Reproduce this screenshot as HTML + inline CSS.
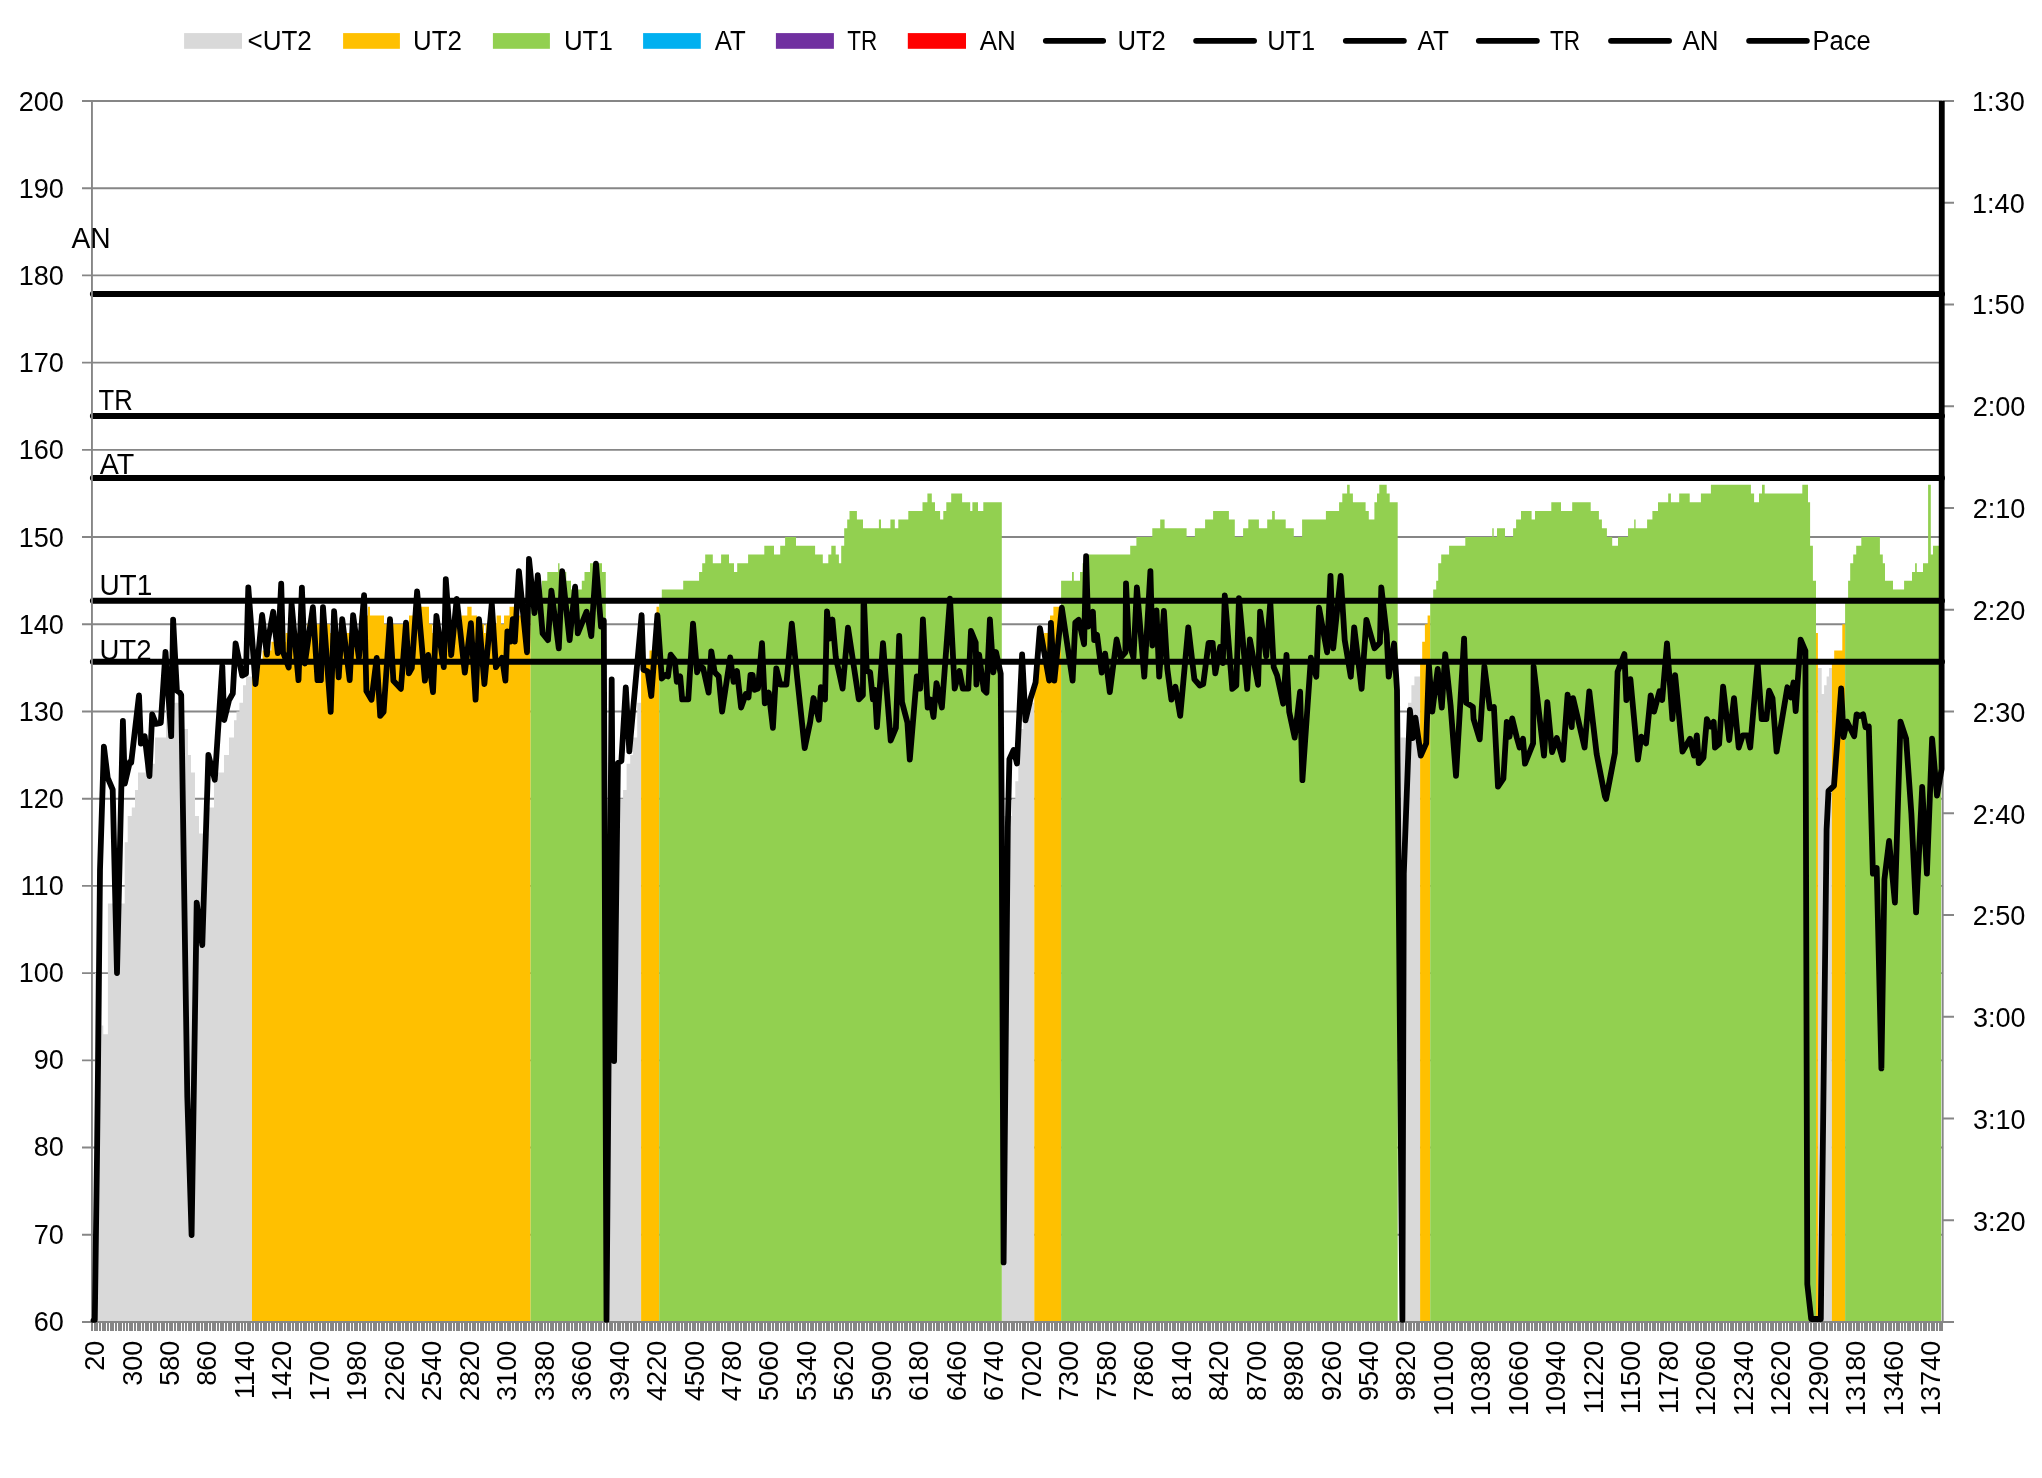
<!DOCTYPE html>
<html><head><meta charset="utf-8"><title>chart</title>
<style>html,body{margin:0;padding:0;background:#fff;width:2042px;height:1478px;overflow:hidden}</style>
</head><body>
<svg width="2042" height="1478" viewBox="0 0 2042 1478" style="display:block">
<rect x="0" y="0" width="2042" height="1478" fill="#fff"/>
<path d="M82,1234.78H1942.4M82,1147.57H1942.4M82,1060.35H1942.4M82,973.13H1942.4M82,885.92H1942.4M82,798.70H1942.4M82,711.49H1942.4M82,624.27H1942.4M82,537.05H1942.4M82,449.84H1942.4M82,362.62H1942.4M82,275.40H1942.4M82,188.19H1942.4M82,100.97H1942.4" stroke="#868686" stroke-width="1.9" fill="none"/>
<path d="M95.0,1322.0V973.1H101.6V1322.0ZM101.6,1322.0V1025.5H103.3V1322.0ZM103.3,1322.0V1034.2H107.9V1322.0ZM107.9,1322.0V903.4H124.7V1322.0ZM124.7,1322.0V842.3H127.7V1322.0ZM127.7,1322.0V816.1H131.8V1322.0ZM131.8,1322.0V807.4H135.0V1322.0ZM135.0,1322.0V790.0H138.0V1322.0ZM138.0,1322.0V772.5H145.0V1322.0ZM145.0,1322.0V763.8H155.0V1322.0ZM155.0,1322.0V737.6H166.0V1322.0ZM166.0,1322.0V694.0H174.0V1322.0ZM174.0,1322.0V702.8H184.0V1322.0ZM184.0,1322.0V728.9H188.0V1322.0ZM188.0,1322.0V755.1H191.0V1322.0ZM191.0,1322.0V772.5H195.0V1322.0ZM195.0,1322.0V816.1H199.0V1322.0ZM199.0,1322.0V833.6H209.0V1322.0ZM209.0,1322.0V807.4H214.0V1322.0ZM214.0,1322.0V781.3H218.0V1322.0ZM218.0,1322.0V772.5H224.0V1322.0ZM224.0,1322.0V755.1H229.0V1322.0ZM229.0,1322.0V737.6H234.0V1322.0ZM234.0,1322.0V720.2H236.5V1322.0ZM236.5,1322.0V711.5H239.4V1322.0ZM239.4,1322.0V702.8H243.0V1322.0ZM243.0,1322.0V685.3H246.0V1322.0ZM246.0,1322.0V676.6H252.0V1322.0ZM605.8,1322.0V798.7H623.1V1322.0ZM623.1,1322.0V790.0H626.6V1322.0ZM626.6,1322.0V763.8H630.2V1322.0ZM630.2,1322.0V755.1H632.8V1322.0ZM632.8,1322.0V737.6H637.2V1322.0ZM637.2,1322.0V702.8H641.1V1322.0ZM1001.8,1322.0V816.1H1011.9V1322.0ZM1011.9,1322.0V798.7H1015.3V1322.0ZM1015.3,1322.0V781.3H1018.3V1322.0ZM1018.3,1322.0V728.9H1023.3V1322.0ZM1023.3,1322.0V720.2H1028.6V1322.0ZM1028.6,1322.0V702.8H1034.3V1322.0ZM1400.6,1322.0V737.6H1408.0V1322.0ZM1408.0,1322.0V702.8H1411.4V1322.0ZM1411.4,1322.0V685.3H1414.4V1322.0ZM1414.4,1322.0V676.6H1420.1V1322.0ZM1817.9,1322.0V667.9H1821.7V1322.0ZM1821.7,1322.0V694.0H1824.1V1322.0ZM1824.1,1322.0V685.3H1826.6V1322.0ZM1826.6,1322.0V676.6H1829.0V1322.0ZM1829.0,1322.0V667.9H1831.9V1322.0Z" fill="#D9D9D9"/>
<path d="M252.0,1322.0V659.2H262.6V1322.0ZM262.6,1322.0V650.4H271.4V1322.0ZM271.4,1322.0V641.7H285.6V1322.0ZM285.6,1322.0V633.0H307.0V1322.0ZM307.0,1322.0V624.3H330.0V1322.0ZM330.0,1322.0V633.0H359.6V1322.0ZM359.6,1322.0V615.5H368.0V1322.0ZM368.0,1322.0V606.8H370.0V1322.0ZM370.0,1322.0V615.5H384.0V1322.0ZM384.0,1322.0V624.3H409.0V1322.0ZM409.0,1322.0V615.5H413.4V1322.0ZM413.4,1322.0V606.8H429.0V1322.0ZM429.0,1322.0V624.3H432.3V1322.0ZM432.3,1322.0V633.0H452.6V1322.0ZM452.6,1322.0V624.3H461.4V1322.0ZM461.4,1322.0V615.5H467.3V1322.0ZM467.3,1322.0V606.8H471.6V1322.0ZM471.6,1322.0V615.5H477.0V1322.0ZM477.0,1322.0V624.3H484.0V1322.0ZM484.0,1322.0V633.0H485.7V1322.0ZM485.7,1322.0V624.3H496.6V1322.0ZM496.6,1322.0V615.5H501.0V1322.0ZM501.0,1322.0V624.3H504.0V1322.0ZM504.0,1322.0V615.5H509.5V1322.0ZM509.5,1322.0V606.8H514.8V1322.0ZM514.8,1322.0V615.5H530.6V1322.0ZM641.1,1322.0V659.2H649.5V1322.0ZM649.5,1322.0V650.4H653.0V1322.0ZM653.0,1322.0V641.7H656.5V1322.0ZM656.5,1322.0V606.8H659.2V1322.0ZM1034.3,1322.0V659.2H1044.1V1322.0ZM1044.1,1322.0V633.0H1050.0V1322.0ZM1050.0,1322.0V615.5H1053.4V1322.0ZM1053.4,1322.0V606.8H1061.1V1322.0ZM1420.1,1322.0V659.2H1422.2V1322.0ZM1422.2,1322.0V641.7H1424.9V1322.0ZM1424.9,1322.0V624.3H1427.6V1322.0ZM1427.6,1322.0V615.5H1430.2V1322.0ZM1816.0,1322.0V633.0H1817.9V1322.0ZM1831.9,1322.0V659.2H1834.2V1322.0ZM1834.2,1322.0V650.4H1842.3V1322.0ZM1842.3,1322.0V624.3H1845.1V1322.0Z" fill="#FFC000"/>
<path d="M530.6,1322.0V606.8H541.9V1322.0ZM541.9,1322.0V580.7H547.3V1322.0ZM547.3,1322.0V571.9H558.1V1322.0ZM558.1,1322.0V563.2H559.5V1322.0ZM559.5,1322.0V571.9H566.3V1322.0ZM566.3,1322.0V580.7H571.0V1322.0ZM571.0,1322.0V589.4H581.8V1322.0ZM581.8,1322.0V580.7H584.5V1322.0ZM584.5,1322.0V571.9H590.0V1322.0ZM590.0,1322.0V563.2H602.0V1322.0ZM602.0,1322.0V571.9H605.8V1322.0ZM659.2,1322.0V598.1H661.8V1322.0ZM661.8,1322.0V589.4H683.2V1322.0ZM683.2,1322.0V580.7H699.1V1322.0ZM699.1,1322.0V571.9H702.2V1322.0ZM702.2,1322.0V563.2H705.2V1322.0ZM705.2,1322.0V554.5H712.8V1322.0ZM712.8,1322.0V563.2H721.1V1322.0ZM721.1,1322.0V554.5H729.0V1322.0ZM729.0,1322.0V563.2H734.0V1322.0ZM734.0,1322.0V571.9H737.2V1322.0ZM737.2,1322.0V563.2H748.1V1322.0ZM748.1,1322.0V554.5H764.3V1322.0ZM764.3,1322.0V545.8H774.0V1322.0ZM774.0,1322.0V554.5H780.2V1322.0ZM780.2,1322.0V545.8H785.1V1322.0ZM785.1,1322.0V537.1H796.0V1322.0ZM796.0,1322.0V545.8H815.1V1322.0ZM815.1,1322.0V554.5H822.8V1322.0ZM822.8,1322.0V563.2H828.3V1322.0ZM828.3,1322.0V554.5H831.3V1322.0ZM831.3,1322.0V545.8H835.7V1322.0ZM835.7,1322.0V554.5H838.9V1322.0ZM838.9,1322.0V563.2H841.2V1322.0ZM841.2,1322.0V545.8H844.2V1322.0ZM844.2,1322.0V528.3H847.2V1322.0ZM847.2,1322.0V519.6H849.5V1322.0ZM849.5,1322.0V510.9H856.9V1322.0ZM856.9,1322.0V519.6H863.0V1322.0ZM863.0,1322.0V528.3H878.9V1322.0ZM878.9,1322.0V519.6H881.0V1322.0ZM881.0,1322.0V528.3H890.4V1322.0ZM890.4,1322.0V519.6H894.8V1322.0ZM894.8,1322.0V528.3H898.3V1322.0ZM898.3,1322.0V519.6H908.3V1322.0ZM908.3,1322.0V510.9H922.5V1322.0ZM922.5,1322.0V502.2H927.4V1322.0ZM927.4,1322.0V493.4H931.8V1322.0ZM931.8,1322.0V502.2H935.0V1322.0ZM935.0,1322.0V510.9H940.1V1322.0ZM940.1,1322.0V519.6H943.3V1322.0ZM943.3,1322.0V510.9H946.3V1322.0ZM946.3,1322.0V502.2H951.2V1322.0ZM951.2,1322.0V493.4H962.1V1322.0ZM962.1,1322.0V502.2H970.2V1322.0ZM970.2,1322.0V510.9H972.4V1322.0ZM972.4,1322.0V502.2H978.0V1322.0ZM978.0,1322.0V510.9H983.3V1322.0ZM983.3,1322.0V502.2H1001.8V1322.0ZM1061.1,1322.0V580.7H1072.0V1322.0ZM1072.0,1322.0V571.9H1073.8V1322.0ZM1073.8,1322.0V580.7H1080.0V1322.0ZM1080.0,1322.0V571.9H1082.6V1322.0ZM1082.6,1322.0V563.2H1088.8V1322.0ZM1088.8,1322.0V554.5H1130.2V1322.0ZM1130.2,1322.0V545.8H1136.4V1322.0ZM1136.4,1322.0V537.1H1152.3V1322.0ZM1152.3,1322.0V528.3H1160.2V1322.0ZM1160.2,1322.0V519.6H1164.6V1322.0ZM1164.6,1322.0V528.3H1186.6V1322.0ZM1186.6,1322.0V537.1H1194.9V1322.0ZM1194.9,1322.0V528.3H1205.1V1322.0ZM1205.1,1322.0V519.6H1213.1V1322.0ZM1213.1,1322.0V510.9H1228.9V1322.0ZM1228.9,1322.0V519.6H1234.8V1322.0ZM1234.8,1322.0V537.1H1243.1V1322.0ZM1243.1,1322.0V528.3H1248.3V1322.0ZM1248.3,1322.0V519.6H1258.9V1322.0ZM1258.9,1322.0V528.3H1267.2V1322.0ZM1267.2,1322.0V519.6H1272.1V1322.0ZM1272.1,1322.0V510.9H1274.8V1322.0ZM1274.8,1322.0V519.6H1285.7V1322.0ZM1285.7,1322.0V528.3H1293.8V1322.0ZM1293.8,1322.0V537.1H1302.1V1322.0ZM1302.1,1322.0V519.6H1325.9V1322.0ZM1325.9,1322.0V510.9H1339.1V1322.0ZM1339.1,1322.0V502.2H1342.3V1322.0ZM1342.3,1322.0V493.4H1347.1V1322.0ZM1347.1,1322.0V484.7H1349.7V1322.0ZM1349.7,1322.0V493.4H1352.9V1322.0ZM1352.9,1322.0V502.2H1365.6V1322.0ZM1365.6,1322.0V510.9H1368.8V1322.0ZM1368.8,1322.0V519.6H1374.4V1322.0ZM1374.4,1322.0V502.2H1377.0V1322.0ZM1377.0,1322.0V493.4H1379.3V1322.0ZM1379.3,1322.0V484.7H1386.7V1322.0ZM1386.7,1322.0V493.4H1389.7V1322.0ZM1389.7,1322.0V502.2H1397.7V1322.0ZM1430.2,1322.0V598.1H1433.2V1322.0ZM1433.2,1322.0V589.4H1436.2V1322.0ZM1436.2,1322.0V580.7H1438.2V1322.0ZM1438.2,1322.0V563.2H1441.2V1322.0ZM1441.2,1322.0V554.5H1449.1V1322.0ZM1449.1,1322.0V545.8H1465.3V1322.0ZM1465.3,1322.0V537.1H1492.3V1322.0ZM1492.3,1322.0V528.3H1493.7V1322.0ZM1493.7,1322.0V537.1H1497.0V1322.0ZM1497.0,1322.0V528.3H1505.0V1322.0ZM1505.0,1322.0V537.1H1513.1V1322.0ZM1513.1,1322.0V528.3H1516.1V1322.0ZM1516.1,1322.0V519.6H1521.0V1322.0ZM1521.0,1322.0V510.9H1531.6V1322.0ZM1531.6,1322.0V519.6H1535.0V1322.0ZM1535.0,1322.0V510.9H1551.3V1322.0ZM1551.3,1322.0V502.2H1561.0V1322.0ZM1561.0,1322.0V510.9H1572.2V1322.0ZM1572.2,1322.0V502.2H1590.7V1322.0ZM1590.7,1322.0V510.9H1598.9V1322.0ZM1598.9,1322.0V519.6H1601.9V1322.0ZM1601.9,1322.0V528.3H1606.9V1322.0ZM1606.9,1322.0V537.1H1612.2V1322.0ZM1612.2,1322.0V545.8H1618.0V1322.0ZM1618.0,1322.0V537.1H1628.0V1322.0ZM1628.0,1322.0V528.3H1634.2V1322.0ZM1634.2,1322.0V519.6H1635.6V1322.0ZM1635.6,1322.0V528.3H1647.1V1322.0ZM1647.1,1322.0V519.6H1652.4V1322.0ZM1652.4,1322.0V510.9H1658.0V1322.0ZM1658.0,1322.0V502.2H1668.2V1322.0ZM1668.2,1322.0V493.4H1670.9V1322.0ZM1670.9,1322.0V502.2H1679.2V1322.0ZM1679.2,1322.0V493.4H1689.7V1322.0ZM1689.7,1322.0V502.2H1700.9V1322.0ZM1700.9,1322.0V493.4H1710.9V1322.0ZM1710.9,1322.0V484.7H1750.9V1322.0ZM1750.9,1322.0V493.4H1754.1V1322.0ZM1754.1,1322.0V502.2H1759.0V1322.0ZM1759.0,1322.0V493.4H1762.0V1322.0ZM1762.0,1322.0V484.7H1764.7V1322.0ZM1764.7,1322.0V493.4H1802.3V1322.0ZM1802.3,1322.0V484.7H1808.0V1322.0ZM1808.0,1322.0V502.2H1810.1V1322.0ZM1810.1,1322.0V545.8H1812.9V1322.0ZM1812.9,1322.0V580.7H1816.0V1322.0ZM1845.1,1322.0V598.1H1848.1V1322.0ZM1848.1,1322.0V580.7H1850.2V1322.0ZM1850.2,1322.0V563.2H1853.2V1322.0ZM1853.2,1322.0V554.5H1856.2V1322.0ZM1856.2,1322.0V545.8H1861.3V1322.0ZM1861.3,1322.0V537.1H1879.9V1322.0ZM1879.9,1322.0V554.5H1882.8V1322.0ZM1882.8,1322.0V563.2H1885.0V1322.0ZM1885.0,1322.0V580.7H1893.0V1322.0ZM1893.0,1322.0V589.4H1904.1V1322.0ZM1904.1,1322.0V580.7H1912.0V1322.0ZM1912.0,1322.0V571.9H1915.1V1322.0ZM1915.1,1322.0V563.2H1916.8V1322.0ZM1916.8,1322.0V571.9H1923.0V1322.0ZM1923.0,1322.0V563.2H1928.1V1322.0ZM1928.1,1322.0V484.7H1930.8V1322.0ZM1930.8,1322.0V554.5H1933.0V1322.0ZM1933.0,1322.0V545.8H1941.2V1322.0Z" fill="#92D050"/>
<path d="M92.9,294.0H1942" stroke="#000" stroke-width="6" stroke-linecap="round" fill="none"/>
<path d="M92.9,415.9H1942" stroke="#000" stroke-width="6" stroke-linecap="round" fill="none"/>
<path d="M92.9,477.9H1942" stroke="#000" stroke-width="6" stroke-linecap="round" fill="none"/>
<path d="M92.9,600.8H1942" stroke="#000" stroke-width="6" stroke-linecap="round" fill="none"/>
<path d="M92.9,661.85H1942" stroke="#000" stroke-width="6" stroke-linecap="round" fill="none"/>
<path d="M91.95,100.97V1322.9" stroke="#868686" stroke-width="1.9" fill="none"/>
<path d="M1942.7,100.97V1322.9" stroke="#868686" stroke-width="1.9" fill="none"/>
<path d="M1942.4,100.97H1954M1942.4,202.72H1954M1942.4,304.48H1954M1942.4,406.23H1954M1942.4,507.98H1954M1942.4,609.73H1954M1942.4,711.49H1954M1942.4,813.24H1954M1942.4,914.99H1954M1942.4,1016.74H1954M1942.4,1118.49H1954M1942.4,1220.25H1954M1942.4,1322.00H1954" stroke="#868686" stroke-width="1.9" fill="none"/>
<path d="M82,1322.00H1944.5" stroke="#868686" stroke-width="1.9" fill="none"/>
<path d="M91.95,1322.0V1331M94.63,1322.0V1331M97.31,1322.0V1331M100.00,1322.0V1331M102.68,1322.0V1331M105.36,1322.0V1331M108.04,1322.0V1331M110.72,1322.0V1331M113.40,1322.0V1331M116.09,1322.0V1331M118.77,1322.0V1331M121.45,1322.0V1331M124.13,1322.0V1331M126.81,1322.0V1331M129.50,1322.0V1331M132.18,1322.0V1331M134.86,1322.0V1331M137.54,1322.0V1331M140.22,1322.0V1331M142.90,1322.0V1331M145.59,1322.0V1331M148.27,1322.0V1331M150.95,1322.0V1331M153.63,1322.0V1331M156.31,1322.0V1331M159.00,1322.0V1331M161.68,1322.0V1331M164.36,1322.0V1331M167.04,1322.0V1331M169.72,1322.0V1331M172.40,1322.0V1331M175.09,1322.0V1331M177.77,1322.0V1331M180.45,1322.0V1331M183.13,1322.0V1331M185.81,1322.0V1331M188.50,1322.0V1331M191.18,1322.0V1331M193.86,1322.0V1331M196.54,1322.0V1331M199.22,1322.0V1331M201.90,1322.0V1331M204.59,1322.0V1331M207.27,1322.0V1331M209.95,1322.0V1331M212.63,1322.0V1331M215.31,1322.0V1331M218.00,1322.0V1331M220.68,1322.0V1331M223.36,1322.0V1331M226.04,1322.0V1331M228.72,1322.0V1331M231.40,1322.0V1331M234.09,1322.0V1331M236.77,1322.0V1331M239.45,1322.0V1331M242.13,1322.0V1331M244.81,1322.0V1331M247.50,1322.0V1331M250.18,1322.0V1331M252.86,1322.0V1331M255.54,1322.0V1331M258.22,1322.0V1331M260.90,1322.0V1331M263.59,1322.0V1331M266.27,1322.0V1331M268.95,1322.0V1331M271.63,1322.0V1331M274.31,1322.0V1331M277.00,1322.0V1331M279.68,1322.0V1331M282.36,1322.0V1331M285.04,1322.0V1331M287.72,1322.0V1331M290.40,1322.0V1331M293.09,1322.0V1331M295.77,1322.0V1331M298.45,1322.0V1331M301.13,1322.0V1331M303.81,1322.0V1331M306.49,1322.0V1331M309.18,1322.0V1331M311.86,1322.0V1331M314.54,1322.0V1331M317.22,1322.0V1331M319.90,1322.0V1331M322.59,1322.0V1331M325.27,1322.0V1331M327.95,1322.0V1331M330.63,1322.0V1331M333.31,1322.0V1331M335.99,1322.0V1331M338.68,1322.0V1331M341.36,1322.0V1331M344.04,1322.0V1331M346.72,1322.0V1331M349.40,1322.0V1331M352.09,1322.0V1331M354.77,1322.0V1331M357.45,1322.0V1331M360.13,1322.0V1331M362.81,1322.0V1331M365.49,1322.0V1331M368.18,1322.0V1331M370.86,1322.0V1331M373.54,1322.0V1331M376.22,1322.0V1331M378.90,1322.0V1331M381.59,1322.0V1331M384.27,1322.0V1331M386.95,1322.0V1331M389.63,1322.0V1331M392.31,1322.0V1331M394.99,1322.0V1331M397.68,1322.0V1331M400.36,1322.0V1331M403.04,1322.0V1331M405.72,1322.0V1331M408.40,1322.0V1331M411.09,1322.0V1331M413.77,1322.0V1331M416.45,1322.0V1331M419.13,1322.0V1331M421.81,1322.0V1331M424.49,1322.0V1331M427.18,1322.0V1331M429.86,1322.0V1331M432.54,1322.0V1331M435.22,1322.0V1331M437.90,1322.0V1331M440.59,1322.0V1331M443.27,1322.0V1331M445.95,1322.0V1331M448.63,1322.0V1331M451.31,1322.0V1331M453.99,1322.0V1331M456.68,1322.0V1331M459.36,1322.0V1331M462.04,1322.0V1331M464.72,1322.0V1331M467.40,1322.0V1331M470.09,1322.0V1331M472.77,1322.0V1331M475.45,1322.0V1331M478.13,1322.0V1331M480.81,1322.0V1331M483.49,1322.0V1331M486.18,1322.0V1331M488.86,1322.0V1331M491.54,1322.0V1331M494.22,1322.0V1331M496.90,1322.0V1331M499.59,1322.0V1331M502.27,1322.0V1331M504.95,1322.0V1331M507.63,1322.0V1331M510.31,1322.0V1331M512.99,1322.0V1331M515.68,1322.0V1331M518.36,1322.0V1331M521.04,1322.0V1331M523.72,1322.0V1331M526.40,1322.0V1331M529.09,1322.0V1331M531.77,1322.0V1331M534.45,1322.0V1331M537.13,1322.0V1331M539.81,1322.0V1331M542.49,1322.0V1331M545.18,1322.0V1331M547.86,1322.0V1331M550.54,1322.0V1331M553.22,1322.0V1331M555.90,1322.0V1331M558.59,1322.0V1331M561.27,1322.0V1331M563.95,1322.0V1331M566.63,1322.0V1331M569.31,1322.0V1331M571.99,1322.0V1331M574.68,1322.0V1331M577.36,1322.0V1331M580.04,1322.0V1331M582.72,1322.0V1331M585.40,1322.0V1331M588.09,1322.0V1331M590.77,1322.0V1331M593.45,1322.0V1331M596.13,1322.0V1331M598.81,1322.0V1331M601.49,1322.0V1331M604.18,1322.0V1331M606.86,1322.0V1331M609.54,1322.0V1331M612.22,1322.0V1331M614.90,1322.0V1331M617.59,1322.0V1331M620.27,1322.0V1331M622.95,1322.0V1331M625.63,1322.0V1331M628.31,1322.0V1331M630.99,1322.0V1331M633.68,1322.0V1331M636.36,1322.0V1331M639.04,1322.0V1331M641.72,1322.0V1331M644.40,1322.0V1331M647.09,1322.0V1331M649.77,1322.0V1331M652.45,1322.0V1331M655.13,1322.0V1331M657.81,1322.0V1331M660.49,1322.0V1331M663.18,1322.0V1331M665.86,1322.0V1331M668.54,1322.0V1331M671.22,1322.0V1331M673.90,1322.0V1331M676.58,1322.0V1331M679.27,1322.0V1331M681.95,1322.0V1331M684.63,1322.0V1331M687.31,1322.0V1331M689.99,1322.0V1331M692.68,1322.0V1331M695.36,1322.0V1331M698.04,1322.0V1331M700.72,1322.0V1331M703.40,1322.0V1331M706.08,1322.0V1331M708.77,1322.0V1331M711.45,1322.0V1331M714.13,1322.0V1331M716.81,1322.0V1331M719.49,1322.0V1331M722.18,1322.0V1331M724.86,1322.0V1331M727.54,1322.0V1331M730.22,1322.0V1331M732.90,1322.0V1331M735.58,1322.0V1331M738.27,1322.0V1331M740.95,1322.0V1331M743.63,1322.0V1331M746.31,1322.0V1331M748.99,1322.0V1331M751.68,1322.0V1331M754.36,1322.0V1331M757.04,1322.0V1331M759.72,1322.0V1331M762.40,1322.0V1331M765.08,1322.0V1331M767.77,1322.0V1331M770.45,1322.0V1331M773.13,1322.0V1331M775.81,1322.0V1331M778.49,1322.0V1331M781.18,1322.0V1331M783.86,1322.0V1331M786.54,1322.0V1331M789.22,1322.0V1331M791.90,1322.0V1331M794.58,1322.0V1331M797.27,1322.0V1331M799.95,1322.0V1331M802.63,1322.0V1331M805.31,1322.0V1331M807.99,1322.0V1331M810.68,1322.0V1331M813.36,1322.0V1331M816.04,1322.0V1331M818.72,1322.0V1331M821.40,1322.0V1331M824.08,1322.0V1331M826.77,1322.0V1331M829.45,1322.0V1331M832.13,1322.0V1331M834.81,1322.0V1331M837.49,1322.0V1331M840.18,1322.0V1331M842.86,1322.0V1331M845.54,1322.0V1331M848.22,1322.0V1331M850.90,1322.0V1331M853.58,1322.0V1331M856.27,1322.0V1331M858.95,1322.0V1331M861.63,1322.0V1331M864.31,1322.0V1331M866.99,1322.0V1331M869.68,1322.0V1331M872.36,1322.0V1331M875.04,1322.0V1331M877.72,1322.0V1331M880.40,1322.0V1331M883.08,1322.0V1331M885.77,1322.0V1331M888.45,1322.0V1331M891.13,1322.0V1331M893.81,1322.0V1331M896.49,1322.0V1331M899.18,1322.0V1331M901.86,1322.0V1331M904.54,1322.0V1331M907.22,1322.0V1331M909.90,1322.0V1331M912.58,1322.0V1331M915.27,1322.0V1331M917.95,1322.0V1331M920.63,1322.0V1331M923.31,1322.0V1331M925.99,1322.0V1331M928.68,1322.0V1331M931.36,1322.0V1331M934.04,1322.0V1331M936.72,1322.0V1331M939.40,1322.0V1331M942.08,1322.0V1331M944.77,1322.0V1331M947.45,1322.0V1331M950.13,1322.0V1331M952.81,1322.0V1331M955.49,1322.0V1331M958.18,1322.0V1331M960.86,1322.0V1331M963.54,1322.0V1331M966.22,1322.0V1331M968.90,1322.0V1331M971.58,1322.0V1331M974.27,1322.0V1331M976.95,1322.0V1331M979.63,1322.0V1331M982.31,1322.0V1331M984.99,1322.0V1331M987.68,1322.0V1331M990.36,1322.0V1331M993.04,1322.0V1331M995.72,1322.0V1331M998.40,1322.0V1331M1001.08,1322.0V1331M1003.77,1322.0V1331M1006.45,1322.0V1331M1009.13,1322.0V1331M1011.81,1322.0V1331M1014.49,1322.0V1331M1017.18,1322.0V1331M1019.86,1322.0V1331M1022.54,1322.0V1331M1025.22,1322.0V1331M1027.90,1322.0V1331M1030.58,1322.0V1331M1033.27,1322.0V1331M1035.95,1322.0V1331M1038.63,1322.0V1331M1041.31,1322.0V1331M1043.99,1322.0V1331M1046.67,1322.0V1331M1049.36,1322.0V1331M1052.04,1322.0V1331M1054.72,1322.0V1331M1057.40,1322.0V1331M1060.08,1322.0V1331M1062.77,1322.0V1331M1065.45,1322.0V1331M1068.13,1322.0V1331M1070.81,1322.0V1331M1073.49,1322.0V1331M1076.17,1322.0V1331M1078.86,1322.0V1331M1081.54,1322.0V1331M1084.22,1322.0V1331M1086.90,1322.0V1331M1089.58,1322.0V1331M1092.27,1322.0V1331M1094.95,1322.0V1331M1097.63,1322.0V1331M1100.31,1322.0V1331M1102.99,1322.0V1331M1105.67,1322.0V1331M1108.36,1322.0V1331M1111.04,1322.0V1331M1113.72,1322.0V1331M1116.40,1322.0V1331M1119.08,1322.0V1331M1121.77,1322.0V1331M1124.45,1322.0V1331M1127.13,1322.0V1331M1129.81,1322.0V1331M1132.49,1322.0V1331M1135.17,1322.0V1331M1137.86,1322.0V1331M1140.54,1322.0V1331M1143.22,1322.0V1331M1145.90,1322.0V1331M1148.58,1322.0V1331M1151.27,1322.0V1331M1153.95,1322.0V1331M1156.63,1322.0V1331M1159.31,1322.0V1331M1161.99,1322.0V1331M1164.67,1322.0V1331M1167.36,1322.0V1331M1170.04,1322.0V1331M1172.72,1322.0V1331M1175.40,1322.0V1331M1178.08,1322.0V1331M1180.77,1322.0V1331M1183.45,1322.0V1331M1186.13,1322.0V1331M1188.81,1322.0V1331M1191.49,1322.0V1331M1194.17,1322.0V1331M1196.86,1322.0V1331M1199.54,1322.0V1331M1202.22,1322.0V1331M1204.90,1322.0V1331M1207.58,1322.0V1331M1210.27,1322.0V1331M1212.95,1322.0V1331M1215.63,1322.0V1331M1218.31,1322.0V1331M1220.99,1322.0V1331M1223.67,1322.0V1331M1226.36,1322.0V1331M1229.04,1322.0V1331M1231.72,1322.0V1331M1234.40,1322.0V1331M1237.08,1322.0V1331M1239.77,1322.0V1331M1242.45,1322.0V1331M1245.13,1322.0V1331M1247.81,1322.0V1331M1250.49,1322.0V1331M1253.17,1322.0V1331M1255.86,1322.0V1331M1258.54,1322.0V1331M1261.22,1322.0V1331M1263.90,1322.0V1331M1266.58,1322.0V1331M1269.27,1322.0V1331M1271.95,1322.0V1331M1274.63,1322.0V1331M1277.31,1322.0V1331M1279.99,1322.0V1331M1282.67,1322.0V1331M1285.36,1322.0V1331M1288.04,1322.0V1331M1290.72,1322.0V1331M1293.40,1322.0V1331M1296.08,1322.0V1331M1298.77,1322.0V1331M1301.45,1322.0V1331M1304.13,1322.0V1331M1306.81,1322.0V1331M1309.49,1322.0V1331M1312.17,1322.0V1331M1314.86,1322.0V1331M1317.54,1322.0V1331M1320.22,1322.0V1331M1322.90,1322.0V1331M1325.58,1322.0V1331M1328.27,1322.0V1331M1330.95,1322.0V1331M1333.63,1322.0V1331M1336.31,1322.0V1331M1338.99,1322.0V1331M1341.67,1322.0V1331M1344.36,1322.0V1331M1347.04,1322.0V1331M1349.72,1322.0V1331M1352.40,1322.0V1331M1355.08,1322.0V1331M1357.77,1322.0V1331M1360.45,1322.0V1331M1363.13,1322.0V1331M1365.81,1322.0V1331M1368.49,1322.0V1331M1371.17,1322.0V1331M1373.86,1322.0V1331M1376.54,1322.0V1331M1379.22,1322.0V1331M1381.90,1322.0V1331M1384.58,1322.0V1331M1387.27,1322.0V1331M1389.95,1322.0V1331M1392.63,1322.0V1331M1395.31,1322.0V1331M1397.99,1322.0V1331M1400.67,1322.0V1331M1403.36,1322.0V1331M1406.04,1322.0V1331M1408.72,1322.0V1331M1411.40,1322.0V1331M1414.08,1322.0V1331M1416.76,1322.0V1331M1419.45,1322.0V1331M1422.13,1322.0V1331M1424.81,1322.0V1331M1427.49,1322.0V1331M1430.17,1322.0V1331M1432.86,1322.0V1331M1435.54,1322.0V1331M1438.22,1322.0V1331M1440.90,1322.0V1331M1443.58,1322.0V1331M1446.26,1322.0V1331M1448.95,1322.0V1331M1451.63,1322.0V1331M1454.31,1322.0V1331M1456.99,1322.0V1331M1459.67,1322.0V1331M1462.36,1322.0V1331M1465.04,1322.0V1331M1467.72,1322.0V1331M1470.40,1322.0V1331M1473.08,1322.0V1331M1475.76,1322.0V1331M1478.45,1322.0V1331M1481.13,1322.0V1331M1483.81,1322.0V1331M1486.49,1322.0V1331M1489.17,1322.0V1331M1491.86,1322.0V1331M1494.54,1322.0V1331M1497.22,1322.0V1331M1499.90,1322.0V1331M1502.58,1322.0V1331M1505.26,1322.0V1331M1507.95,1322.0V1331M1510.63,1322.0V1331M1513.31,1322.0V1331M1515.99,1322.0V1331M1518.67,1322.0V1331M1521.36,1322.0V1331M1524.04,1322.0V1331M1526.72,1322.0V1331M1529.40,1322.0V1331M1532.08,1322.0V1331M1534.76,1322.0V1331M1537.45,1322.0V1331M1540.13,1322.0V1331M1542.81,1322.0V1331M1545.49,1322.0V1331M1548.17,1322.0V1331M1550.86,1322.0V1331M1553.54,1322.0V1331M1556.22,1322.0V1331M1558.90,1322.0V1331M1561.58,1322.0V1331M1564.26,1322.0V1331M1566.95,1322.0V1331M1569.63,1322.0V1331M1572.31,1322.0V1331M1574.99,1322.0V1331M1577.67,1322.0V1331M1580.36,1322.0V1331M1583.04,1322.0V1331M1585.72,1322.0V1331M1588.40,1322.0V1331M1591.08,1322.0V1331M1593.76,1322.0V1331M1596.45,1322.0V1331M1599.13,1322.0V1331M1601.81,1322.0V1331M1604.49,1322.0V1331M1607.17,1322.0V1331M1609.86,1322.0V1331M1612.54,1322.0V1331M1615.22,1322.0V1331M1617.90,1322.0V1331M1620.58,1322.0V1331M1623.26,1322.0V1331M1625.95,1322.0V1331M1628.63,1322.0V1331M1631.31,1322.0V1331M1633.99,1322.0V1331M1636.67,1322.0V1331M1639.36,1322.0V1331M1642.04,1322.0V1331M1644.72,1322.0V1331M1647.40,1322.0V1331M1650.08,1322.0V1331M1652.76,1322.0V1331M1655.45,1322.0V1331M1658.13,1322.0V1331M1660.81,1322.0V1331M1663.49,1322.0V1331M1666.17,1322.0V1331M1668.86,1322.0V1331M1671.54,1322.0V1331M1674.22,1322.0V1331M1676.90,1322.0V1331M1679.58,1322.0V1331M1682.26,1322.0V1331M1684.95,1322.0V1331M1687.63,1322.0V1331M1690.31,1322.0V1331M1692.99,1322.0V1331M1695.67,1322.0V1331M1698.36,1322.0V1331M1701.04,1322.0V1331M1703.72,1322.0V1331M1706.40,1322.0V1331M1709.08,1322.0V1331M1711.76,1322.0V1331M1714.45,1322.0V1331M1717.13,1322.0V1331M1719.81,1322.0V1331M1722.49,1322.0V1331M1725.17,1322.0V1331M1727.86,1322.0V1331M1730.54,1322.0V1331M1733.22,1322.0V1331M1735.90,1322.0V1331M1738.58,1322.0V1331M1741.26,1322.0V1331M1743.95,1322.0V1331M1746.63,1322.0V1331M1749.31,1322.0V1331M1751.99,1322.0V1331M1754.67,1322.0V1331M1757.36,1322.0V1331M1760.04,1322.0V1331M1762.72,1322.0V1331M1765.40,1322.0V1331M1768.08,1322.0V1331M1770.76,1322.0V1331M1773.45,1322.0V1331M1776.13,1322.0V1331M1778.81,1322.0V1331M1781.49,1322.0V1331M1784.17,1322.0V1331M1786.85,1322.0V1331M1789.54,1322.0V1331M1792.22,1322.0V1331M1794.90,1322.0V1331M1797.58,1322.0V1331M1800.26,1322.0V1331M1802.95,1322.0V1331M1805.63,1322.0V1331M1808.31,1322.0V1331M1810.99,1322.0V1331M1813.67,1322.0V1331M1816.35,1322.0V1331M1819.04,1322.0V1331M1821.72,1322.0V1331M1824.40,1322.0V1331M1827.08,1322.0V1331M1829.76,1322.0V1331M1832.45,1322.0V1331M1835.13,1322.0V1331M1837.81,1322.0V1331M1840.49,1322.0V1331M1843.17,1322.0V1331M1845.85,1322.0V1331M1848.54,1322.0V1331M1851.22,1322.0V1331M1853.90,1322.0V1331M1856.58,1322.0V1331M1859.26,1322.0V1331M1861.95,1322.0V1331M1864.63,1322.0V1331M1867.31,1322.0V1331M1869.99,1322.0V1331M1872.67,1322.0V1331M1875.35,1322.0V1331M1878.04,1322.0V1331M1880.72,1322.0V1331M1883.40,1322.0V1331M1886.08,1322.0V1331M1888.76,1322.0V1331M1891.45,1322.0V1331M1894.13,1322.0V1331M1896.81,1322.0V1331M1899.49,1322.0V1331M1902.17,1322.0V1331M1904.85,1322.0V1331M1907.54,1322.0V1331M1910.22,1322.0V1331M1912.90,1322.0V1331M1915.58,1322.0V1331M1918.26,1322.0V1331M1920.95,1322.0V1331M1923.63,1322.0V1331M1926.31,1322.0V1331M1928.99,1322.0V1331M1931.67,1322.0V1331M1934.35,1322.0V1331M1937.04,1322.0V1331M1939.72,1322.0V1331M1942.40,1322.0V1331" stroke="#868686" stroke-width="2" fill="none" shape-rendering="crispEdges"/>
<clipPath id="pc"><rect x="0" y="100.97" width="2042" height="1221.73"/></clipPath>
<polyline points="93.5,1320.5 94.8,1320.0 97.0,1157.0 98.2,1050.0 100.0,870.0 103.9,746.6 107.7,777.8 112.7,789.6 117.0,973.0 122.9,721.0 124.8,783.5 129.8,762.0 131.2,762.7 139.0,695.4 140.9,743.7 144.7,736.2 149.4,776.0 152.2,714.4 156.0,723.9 160.8,722.9 165.5,651.9 171.2,736.2 173.1,619.7 176.9,690.7 179.7,692.6 181.2,695.0 187.3,1096.6 191.6,1235.0 196.7,902.6 202.3,945.0 208.4,755.0 214.8,779.7 222.3,666.0 224.2,720.0 229.0,700.2 232.8,693.5 235.6,643.3 242.2,675.6 246.0,673.7 248.3,587.5 255.5,684.0 262.1,615.0 266.9,654.7 268.0,640.5 273.2,611.8 277.8,653.2 281.2,583.6 283.0,652.0 288.7,667.6 291.6,603.7 298.5,680.2 301.9,587.6 304.8,663.5 312.9,607.2 317.5,680.2 320.9,680.2 323.0,607.2 330.7,711.8 334.1,611.2 338.7,677.3 342.2,619.2 349.7,680.2 353.1,615.2 358.9,657.8 364.1,595.1 366.4,691.1 371.5,699.8 376.7,657.8 380.2,715.9 383.6,711.8 390.0,619.2 393.4,680.8 400.9,688.9 406.0,622.7 408.9,673.3 411.8,668.1 417.1,591.4 424.9,680.7 428.2,655.0 433.0,692.2 436.4,615.8 443.8,667.2 445.8,579.2 451.2,655.0 456.7,598.9 464.8,672.6 470.9,623.2 475.6,699.7 479.0,619.2 484.4,684.1 491.8,603.6 495.9,667.2 502.0,657.7 505.4,680.7 507.4,631.3 510.8,641.5 512.8,619.2 514.8,641.5 518.9,571.1 527.0,652.3 529.0,559.0 534.5,613.1 537.8,575.2 542.6,633.4 548.0,640.1 551.4,590.7 558.8,648.3 562.2,571.1 569.6,640.1 575.1,586.7 577.8,633.4 586.6,611.7 591.3,636.1 596.0,563.7 601.0,626.6 603.8,620.4 606.5,1320.0 611.7,679.3 614.1,1061.0 617.9,763.0 621.4,761.0 625.8,687.3 629.3,751.4 641.6,615.2 643.4,669.7 647.7,671.4 651.3,696.0 657.4,615.2 661.8,678.5 665.3,675.0 668.0,676.4 670.7,654.7 674.8,660.1 676.8,681.8 680.2,676.4 682.2,699.4 688.3,699.4 693.0,623.6 697.1,672.3 699.8,665.5 703.2,668.3 708.6,692.6 711.3,651.3 714.7,672.3 718.7,676.4 722.1,711.6 730.2,657.4 733.6,681.8 737.0,671.0 741.1,707.5 745.8,694.0 748.5,697.4 750.5,675.0 752.6,675.0 754.6,689.9 758.0,688.6 762.0,643.2 764.8,703.4 768.8,692.6 772.9,727.8 776.3,668.3 780.3,684.5 786.4,684.5 791.8,623.6 797.2,677.7 804.7,748.1 810.1,722.4 813.5,698.0 818.9,719.7 820.9,687.2 825.0,699.4 827.0,611.4 829.7,638.5 832.4,619.5 835.8,657.4 842.6,688.6 848.0,627.7 858.8,699.4 862.9,695.3 863.5,604.7 864.1,603.3 866.8,671.0 870.1,672.3 872.9,699.4 874.9,689.9 876.9,727.1 883.0,643.2 890.7,740.5 895.9,727.8 899.2,635.8 902.0,702.0 907.4,722.4 909.8,759.6 916.8,676.4 920.2,688.6 922.9,619.5 927.7,707.5 930.4,699.4 933.5,717.0 936.5,683.1 941.9,707.5 950.0,598.6 954.7,688.6 959.5,671.0 962.8,688.6 968.3,688.6 971.0,631.0 975.7,642.5 976.4,684.5 979.1,654.7 983.8,689.9 986.5,692.6 989.9,619.5 993.3,672.3 996.0,652.0 1000.7,673.7 1001.6,800.0 1003.6,1262.4 1007.8,827.8 1009.4,759.3 1013.6,750.0 1017.0,763.5 1022.1,654.3 1025.5,720.4 1030.6,698.3 1035.6,682.3 1039.9,628.1 1049.2,680.6 1050.9,623.0 1054.3,680.6 1061.8,607.7 1072.6,680.7 1075.3,622.5 1078.7,619.8 1084.1,644.2 1086.1,556.2 1088.2,626.6 1092.9,611.7 1094.2,640.1 1097.0,634.7 1101.7,672.6 1105.1,653.7 1109.8,692.2 1116.6,639.5 1120.6,657.7 1125.4,652.3 1126.0,583.3 1128.7,641.5 1133.5,657.7 1136.9,587.4 1144.3,676.7 1150.4,571.1 1152.4,645.5 1156.5,610.4 1159.2,676.7 1163.9,611.0 1167.3,668.6 1171.4,699.7 1175.4,686.8 1180.2,715.9 1188.3,627.3 1194.4,679.4 1199.8,685.5 1203.2,684.1 1208.6,642.8 1212.6,642.8 1215.3,673.3 1220.1,646.9 1222.8,663.1 1224.8,595.5 1232.3,688.9 1236.3,685.5 1239.0,598.2 1247.2,688.9 1249.9,639.5 1258.1,684.8 1260.1,611.7 1266.2,656.4 1270.3,602.2 1273.7,667.2 1277.1,675.3 1283.2,703.7 1286.5,655.0 1289.2,711.9 1294.7,737.6 1300.1,691.6 1302.4,780.2 1310.9,657.7 1316.3,676.7 1319.0,607.7 1327.1,652.3 1330.5,575.9 1333.2,648.3 1340.7,575.9 1344.7,640.1 1350.8,676.7 1354.2,627.3 1361.6,688.9 1366.4,619.8 1374.5,648.3 1379.9,642.8 1381.3,587.4 1386.7,634.7 1388.7,676.7 1394.1,643.5 1397.0,690.0 1402.4,1320.0 1403.8,873.6 1409.9,710.0 1412.7,738.0 1415.4,717.7 1420.8,755.6 1426.2,743.4 1428.9,665.0 1432.3,711.6 1437.7,669.0 1441.8,707.6 1445.2,654.1 1450.6,705.5 1456.0,775.9 1464.1,638.6 1466.2,702.8 1472.9,706.9 1473.6,719.1 1479.7,739.4 1484.4,666.3 1489.8,708.3 1493.9,706.9 1498.0,786.7 1503.4,778.6 1506.8,721.8 1509.5,736.7 1512.2,718.4 1516.9,738.0 1519.6,747.5 1523.0,738.7 1525.0,763.7 1533.1,743.4 1533.6,666.3 1544.0,755.6 1547.3,702.2 1552.1,752.2 1556.8,738.0 1562.9,759.7 1567.6,694.7 1571.7,727.2 1573.1,698.1 1584.6,747.5 1589.3,691.3 1596.7,754.3 1604.9,796.2 1606.1,798.9 1614.9,752.9 1617.6,671.7 1624.4,654.1 1626.4,700.1 1630.4,679.2 1637.9,759.7 1641.3,736.7 1646.0,743.4 1650.7,695.4 1654.1,711.6 1659.5,691.3 1662.2,700.1 1667.0,643.3 1672.4,719.1 1675.1,675.1 1682.5,751.6 1690.0,738.7 1694.0,755.6 1696.8,735.3 1698.8,763.1 1703.5,757.6 1706.9,719.1 1710.3,726.5 1713.7,721.8 1715.0,747.5 1719.1,744.1 1723.1,686.6 1729.2,740.0 1734.0,698.1 1738.7,747.5 1742.8,735.3 1747.5,735.3 1750.2,747.5 1757.6,662.2 1761.7,719.1 1766.4,719.1 1769.1,690.7 1772.5,698.1 1776.6,751.6 1787.4,687.3 1790.8,697.4 1793.5,682.5 1795.7,711.1 1800.6,639.6 1805.4,651.0 1807.3,1284.3 1811.2,1319.0 1820.8,1319.0 1826.6,829.4 1828.5,790.8 1834.0,785.8 1841.2,688.3 1843.6,737.0 1846.9,721.6 1854.2,736.3 1856.6,714.3 1859.8,716.0 1863.1,714.3 1865.5,727.3 1868.8,726.5 1872.9,873.7 1876.7,868.0 1881.4,1068.4 1884.4,879.5 1889.1,841.0 1894.9,902.6 1900.5,721.6 1906.1,738.7 1911.4,814.0 1916.1,912.3 1922.2,787.0 1926.9,873.7 1932.1,738.7 1937.0,795.5 1941.6,769.0 1941.8,101.0" fill="none" stroke="#000" stroke-width="5.8" stroke-linejoin="round" stroke-linecap="round" clip-path="url(#pc)"/>
<g fill="#000" opacity="0.999">
<text transform="translate(18.66,110.80) scale(0.2710,0.2710)" font-size="100" font-family="Liberation Sans, sans-serif">200</text>
<text transform="translate(18.66,197.94) scale(0.2710,0.2710)" font-size="100" font-family="Liberation Sans, sans-serif">190</text>
<text transform="translate(18.66,285.08) scale(0.2710,0.2710)" font-size="100" font-family="Liberation Sans, sans-serif">180</text>
<text transform="translate(18.66,372.22) scale(0.2710,0.2710)" font-size="100" font-family="Liberation Sans, sans-serif">170</text>
<text transform="translate(18.66,459.36) scale(0.2710,0.2710)" font-size="100" font-family="Liberation Sans, sans-serif">160</text>
<text transform="translate(18.66,546.50) scale(0.2710,0.2710)" font-size="100" font-family="Liberation Sans, sans-serif">150</text>
<text transform="translate(18.66,633.64) scale(0.2710,0.2710)" font-size="100" font-family="Liberation Sans, sans-serif">140</text>
<text transform="translate(18.66,720.77) scale(0.2710,0.2710)" font-size="100" font-family="Liberation Sans, sans-serif">130</text>
<text transform="translate(18.66,807.91) scale(0.2710,0.2710)" font-size="100" font-family="Liberation Sans, sans-serif">120</text>
<text transform="translate(20.56,895.05) scale(0.2710,0.2710)" font-size="100" font-family="Liberation Sans, sans-serif">110</text>
<text transform="translate(18.66,982.19) scale(0.2710,0.2710)" font-size="100" font-family="Liberation Sans, sans-serif">100</text>
<text transform="translate(33.70,1069.33) scale(0.2710,0.2710)" font-size="100" font-family="Liberation Sans, sans-serif">90</text>
<text transform="translate(33.70,1156.47) scale(0.2710,0.2710)" font-size="100" font-family="Liberation Sans, sans-serif">80</text>
<text transform="translate(33.70,1243.61) scale(0.2710,0.2710)" font-size="100" font-family="Liberation Sans, sans-serif">70</text>
<text transform="translate(33.70,1330.75) scale(0.2710,0.2710)" font-size="100" font-family="Liberation Sans, sans-serif">60</text>
<text transform="translate(1971.97,110.80) scale(0.2710,0.2710)" font-size="100" font-family="Liberation Sans, sans-serif">1:30</text>
<text transform="translate(1971.97,212.62) scale(0.2710,0.2710)" font-size="100" font-family="Liberation Sans, sans-serif">1:40</text>
<text transform="translate(1971.97,314.44) scale(0.2710,0.2710)" font-size="100" font-family="Liberation Sans, sans-serif">1:50</text>
<text transform="translate(1972.64,416.25) scale(0.2710,0.2710)" font-size="100" font-family="Liberation Sans, sans-serif">2:00</text>
<text transform="translate(1972.64,518.07) scale(0.2710,0.2710)" font-size="100" font-family="Liberation Sans, sans-serif">2:10</text>
<text transform="translate(1972.64,619.89) scale(0.2710,0.2710)" font-size="100" font-family="Liberation Sans, sans-serif">2:20</text>
<text transform="translate(1972.64,721.71) scale(0.2710,0.2710)" font-size="100" font-family="Liberation Sans, sans-serif">2:30</text>
<text transform="translate(1972.64,823.53) scale(0.2710,0.2710)" font-size="100" font-family="Liberation Sans, sans-serif">2:40</text>
<text transform="translate(1972.64,925.34) scale(0.2710,0.2710)" font-size="100" font-family="Liberation Sans, sans-serif">2:50</text>
<text transform="translate(1972.92,1027.16) scale(0.2710,0.2710)" font-size="100" font-family="Liberation Sans, sans-serif">3:00</text>
<text transform="translate(1972.92,1128.98) scale(0.2710,0.2710)" font-size="100" font-family="Liberation Sans, sans-serif">3:10</text>
<text transform="translate(1972.92,1230.80) scale(0.2710,0.2710)" font-size="100" font-family="Liberation Sans, sans-serif">3:20</text>
<text transform="translate(104.05,1370.80) rotate(-90) scale(0.2710)" font-size="100" font-family="Liberation Sans, sans-serif">20</text>
<text transform="translate(141.52,1385.84) rotate(-90) scale(0.2710)" font-size="100" font-family="Liberation Sans, sans-serif">300</text>
<text transform="translate(178.99,1385.84) rotate(-90) scale(0.2710)" font-size="100" font-family="Liberation Sans, sans-serif">580</text>
<text transform="translate(216.46,1385.84) rotate(-90) scale(0.2710)" font-size="100" font-family="Liberation Sans, sans-serif">860</text>
<text transform="translate(253.93,1398.98) rotate(-90) scale(0.2710)" font-size="100" font-family="Liberation Sans, sans-serif">1140</text>
<text transform="translate(291.39,1401.01) rotate(-90) scale(0.2710)" font-size="100" font-family="Liberation Sans, sans-serif">1420</text>
<text transform="translate(328.86,1401.01) rotate(-90) scale(0.2710)" font-size="100" font-family="Liberation Sans, sans-serif">1700</text>
<text transform="translate(366.33,1401.01) rotate(-90) scale(0.2710)" font-size="100" font-family="Liberation Sans, sans-serif">1980</text>
<text transform="translate(403.80,1401.01) rotate(-90) scale(0.2710)" font-size="100" font-family="Liberation Sans, sans-serif">2260</text>
<text transform="translate(441.27,1401.01) rotate(-90) scale(0.2710)" font-size="100" font-family="Liberation Sans, sans-serif">2540</text>
<text transform="translate(478.74,1401.01) rotate(-90) scale(0.2710)" font-size="100" font-family="Liberation Sans, sans-serif">2820</text>
<text transform="translate(516.21,1401.01) rotate(-90) scale(0.2710)" font-size="100" font-family="Liberation Sans, sans-serif">3100</text>
<text transform="translate(553.68,1401.01) rotate(-90) scale(0.2710)" font-size="100" font-family="Liberation Sans, sans-serif">3380</text>
<text transform="translate(591.15,1401.01) rotate(-90) scale(0.2710)" font-size="100" font-family="Liberation Sans, sans-serif">3660</text>
<text transform="translate(628.62,1401.01) rotate(-90) scale(0.2710)" font-size="100" font-family="Liberation Sans, sans-serif">3940</text>
<text transform="translate(666.08,1401.01) rotate(-90) scale(0.2710)" font-size="100" font-family="Liberation Sans, sans-serif">4220</text>
<text transform="translate(703.55,1401.01) rotate(-90) scale(0.2710)" font-size="100" font-family="Liberation Sans, sans-serif">4500</text>
<text transform="translate(741.02,1401.01) rotate(-90) scale(0.2710)" font-size="100" font-family="Liberation Sans, sans-serif">4780</text>
<text transform="translate(778.49,1401.01) rotate(-90) scale(0.2710)" font-size="100" font-family="Liberation Sans, sans-serif">5060</text>
<text transform="translate(815.96,1401.01) rotate(-90) scale(0.2710)" font-size="100" font-family="Liberation Sans, sans-serif">5340</text>
<text transform="translate(853.43,1401.01) rotate(-90) scale(0.2710)" font-size="100" font-family="Liberation Sans, sans-serif">5620</text>
<text transform="translate(890.90,1401.01) rotate(-90) scale(0.2710)" font-size="100" font-family="Liberation Sans, sans-serif">5900</text>
<text transform="translate(928.37,1401.01) rotate(-90) scale(0.2710)" font-size="100" font-family="Liberation Sans, sans-serif">6180</text>
<text transform="translate(965.84,1401.01) rotate(-90) scale(0.2710)" font-size="100" font-family="Liberation Sans, sans-serif">6460</text>
<text transform="translate(1003.31,1401.01) rotate(-90) scale(0.2710)" font-size="100" font-family="Liberation Sans, sans-serif">6740</text>
<text transform="translate(1040.77,1401.01) rotate(-90) scale(0.2710)" font-size="100" font-family="Liberation Sans, sans-serif">7020</text>
<text transform="translate(1078.24,1401.01) rotate(-90) scale(0.2710)" font-size="100" font-family="Liberation Sans, sans-serif">7300</text>
<text transform="translate(1115.71,1401.01) rotate(-90) scale(0.2710)" font-size="100" font-family="Liberation Sans, sans-serif">7580</text>
<text transform="translate(1153.18,1401.01) rotate(-90) scale(0.2710)" font-size="100" font-family="Liberation Sans, sans-serif">7860</text>
<text transform="translate(1190.65,1401.01) rotate(-90) scale(0.2710)" font-size="100" font-family="Liberation Sans, sans-serif">8140</text>
<text transform="translate(1228.12,1401.01) rotate(-90) scale(0.2710)" font-size="100" font-family="Liberation Sans, sans-serif">8420</text>
<text transform="translate(1265.59,1401.01) rotate(-90) scale(0.2710)" font-size="100" font-family="Liberation Sans, sans-serif">8700</text>
<text transform="translate(1303.06,1401.01) rotate(-90) scale(0.2710)" font-size="100" font-family="Liberation Sans, sans-serif">8980</text>
<text transform="translate(1340.53,1401.01) rotate(-90) scale(0.2710)" font-size="100" font-family="Liberation Sans, sans-serif">9260</text>
<text transform="translate(1378.00,1401.01) rotate(-90) scale(0.2710)" font-size="100" font-family="Liberation Sans, sans-serif">9540</text>
<text transform="translate(1415.46,1401.01) rotate(-90) scale(0.2710)" font-size="100" font-family="Liberation Sans, sans-serif">9820</text>
<text transform="translate(1452.93,1416.05) rotate(-90) scale(0.2710)" font-size="100" font-family="Liberation Sans, sans-serif">10100</text>
<text transform="translate(1490.40,1416.05) rotate(-90) scale(0.2710)" font-size="100" font-family="Liberation Sans, sans-serif">10380</text>
<text transform="translate(1527.87,1416.05) rotate(-90) scale(0.2710)" font-size="100" font-family="Liberation Sans, sans-serif">10660</text>
<text transform="translate(1565.34,1416.05) rotate(-90) scale(0.2710)" font-size="100" font-family="Liberation Sans, sans-serif">10940</text>
<text transform="translate(1602.81,1414.02) rotate(-90) scale(0.2710)" font-size="100" font-family="Liberation Sans, sans-serif">11220</text>
<text transform="translate(1640.28,1414.02) rotate(-90) scale(0.2710)" font-size="100" font-family="Liberation Sans, sans-serif">11500</text>
<text transform="translate(1677.75,1414.02) rotate(-90) scale(0.2710)" font-size="100" font-family="Liberation Sans, sans-serif">11780</text>
<text transform="translate(1715.22,1416.05) rotate(-90) scale(0.2710)" font-size="100" font-family="Liberation Sans, sans-serif">12060</text>
<text transform="translate(1752.69,1416.05) rotate(-90) scale(0.2710)" font-size="100" font-family="Liberation Sans, sans-serif">12340</text>
<text transform="translate(1790.15,1416.05) rotate(-90) scale(0.2710)" font-size="100" font-family="Liberation Sans, sans-serif">12620</text>
<text transform="translate(1827.62,1416.05) rotate(-90) scale(0.2710)" font-size="100" font-family="Liberation Sans, sans-serif">12900</text>
<text transform="translate(1865.09,1416.05) rotate(-90) scale(0.2710)" font-size="100" font-family="Liberation Sans, sans-serif">13180</text>
<text transform="translate(1902.56,1416.05) rotate(-90) scale(0.2710)" font-size="100" font-family="Liberation Sans, sans-serif">13460</text>
<text transform="translate(1940.03,1416.05) rotate(-90) scale(0.2710)" font-size="100" font-family="Liberation Sans, sans-serif">13740</text>
<text transform="translate(71.52,247.90) scale(0.2822,0.3029)" font-size="100" font-family="Liberation Sans, sans-serif">AN</text>
<text transform="translate(98.59,409.80) scale(0.2569,0.3000)" font-size="100" font-family="Liberation Sans, sans-serif">TR</text>
<text transform="translate(99.66,473.70) scale(0.2864,0.3000)" font-size="100" font-family="Liberation Sans, sans-serif">AT</text>
<text transform="translate(99.40,594.50) scale(0.2799,0.3000)" font-size="100" font-family="Liberation Sans, sans-serif">UT1</text>
<text transform="translate(99.43,660.40) scale(0.2759,0.2958)" font-size="100" font-family="Liberation Sans, sans-serif">UT2</text>
<rect x="184.1" y="33.1" width="57.9" height="15.7" fill="#D9D9D9"/>
<rect x="343.1" y="33.1" width="56.8" height="15.7" fill="#FFC000"/>
<rect x="492.9" y="33.1" width="57.0" height="15.7" fill="#92D050"/>
<rect x="643.1" y="33.1" width="57.7" height="15.7" fill="#00B0F0"/>
<rect x="775.9" y="33.1" width="58.0" height="15.7" fill="#7030A0"/>
<rect x="907.8" y="33.1" width="58.2" height="15.7" fill="#FF0000"/>
<text transform="translate(247.50,49.73) scale(0.2603,0.2690)" font-size="100" font-family="Liberation Sans, sans-serif">&lt;UT2</text>
<text transform="translate(413.06,49.73) scale(0.2584,0.2690)" font-size="100" font-family="Liberation Sans, sans-serif">UT2</text>
<text transform="translate(563.96,49.73) scale(0.2584,0.2729)" font-size="100" font-family="Liberation Sans, sans-serif">UT1</text>
<text transform="translate(714.67,50.00) scale(0.2576,0.2768)" font-size="100" font-family="Liberation Sans, sans-serif">AT</text>
<text transform="translate(847.15,50.00) scale(0.2253,0.2768)" font-size="100" font-family="Liberation Sans, sans-serif">TR</text>
<text transform="translate(979.67,50.00) scale(0.2600,0.2768)" font-size="100" font-family="Liberation Sans, sans-serif">AN</text>
<text transform="translate(1117.38,49.73) scale(0.2567,0.2690)" font-size="100" font-family="Liberation Sans, sans-serif">UT2</text>
<text transform="translate(1267.30,49.73) scale(0.2538,0.2729)" font-size="100" font-family="Liberation Sans, sans-serif">UT1</text>
<text transform="translate(1417.47,50.00) scale(0.2602,0.2768)" font-size="100" font-family="Liberation Sans, sans-serif">AT</text>
<text transform="translate(1549.95,50.00) scale(0.2261,0.2768)" font-size="100" font-family="Liberation Sans, sans-serif">TR</text>
<text transform="translate(1682.57,50.00) scale(0.2592,0.2768)" font-size="100" font-family="Liberation Sans, sans-serif">AN</text>
<text transform="translate(1812.45,49.73) scale(0.2557,0.2729)" font-size="100" font-family="Liberation Sans, sans-serif">Pace</text>
</g>
<path d="M1045.85,40.85H1103.15M1196.15,40.85H1254.05M1345.85,40.85H1403.85M1478.85,40.85H1536.85M1611.05,40.85H1669.05M1749.15,40.85H1806.85" stroke="#000" stroke-width="5.9" stroke-linecap="round" fill="none"/>
</svg>
</body></html>
